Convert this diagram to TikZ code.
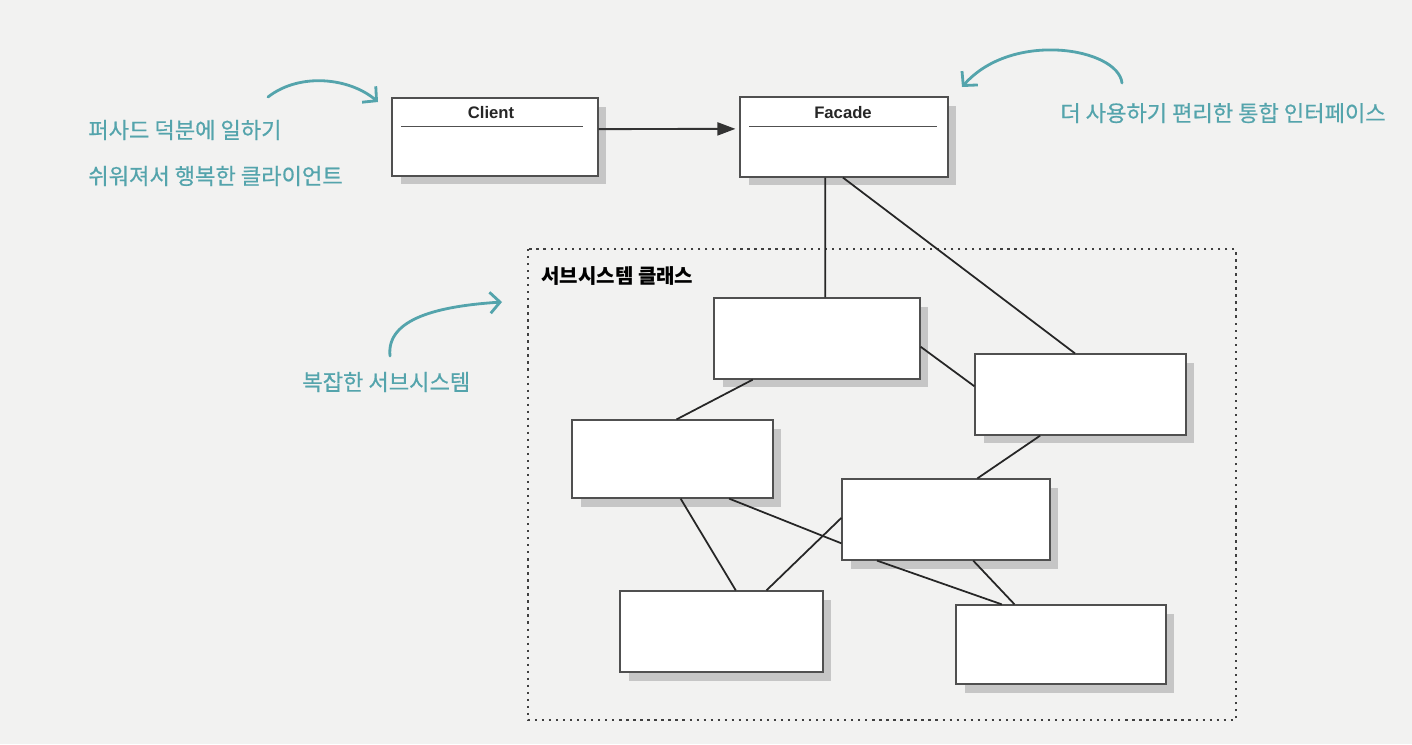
\documentclass[tikz,border=0pt]{standalone}
\usepackage{fontspec}
\setmainfont{Liberation Sans}
\newfontfamily\kofont{Noto Sans CJK KR}
\newfontfamily\konote{Noto Sans CJK KR}[FakeBold=0.6]
\usepackage{tikz}
\usetikzlibrary{arrows.meta,positioning,calc,shadows}
\definecolor{noteteal}{RGB}{84,164,172}
\definecolor{paper}{RGB}{242,242,241}
\definecolor{boxline}{RGB}{80,80,80}

\begin{document}
\begin{tikzpicture}[
    x=0.02cm, y=-0.02cm,
    box/.style={rectangle, draw=boxline, line width=0.7pt, fill=white, inner sep=0pt,
        drop shadow={shadow xshift=0.17cm, shadow yshift=-0.17cm, fill=gray!45, opacity=1}},
    title/.style={font=\bfseries\fontsize{9.5}{11}\selectfont, text=black!85, inner sep=0pt},
    note/.style={font=\konote\fontsize{12.6}{15}\selectfont, text=noteteal, anchor=west, inner sep=0pt},
    arrow/.style={-{Triangle[length=0.36cm, width=0.26cm]}, line width=1.1pt, draw=black!80, fill=black!80},
    link/.style={line width=1pt, black!85},
    note_arrow/.style={-{Straight Barb[length=0.2cm, width=0.42cm]}, line width=1.6pt, noteteal, line cap=round},
    frame/.style={line width=1.6pt, black!75, dash pattern=on 1.3pt off 2.7pt}
]

% Paper
\useasboundingbox (0,0) rectangle (1412,744);
\fill[paper] (0,0) rectangle (1412,744);

% Client and Facade classes
\node[box, minimum width=4.12cm, minimum height=1.56cm] (client) at (495,137) {};
\node[box, minimum width=4.16cm, minimum height=1.60cm] (facade) at (844,137) {};
\node[title] (client_title) at ($(client.north)+(-4,15)$) {Client};
\node[title] (facade_title) at ($(facade.north)+(-1,16)$) {Facade};
\draw[boxline, line width=0.9pt] ($(client.north west)+(10,29)$) -- ($(client.north east)+(-16,29)$);
\draw[boxline, line width=0.9pt] ($(facade.north west)+(10,30)$) -- ($(facade.north east)+(-12,30)$);

% Subsystem frame
\draw[frame] (528,249) rectangle (1236,720);
\node[font=\kofont\bfseries\fontsize{11.4}{13}\selectfont, anchor=west, inner sep=0pt] (frame_label) at (541,276) {서브시스템 클래스};

% Subsystem classes
\node[box, minimum width=4.12cm, minimum height=1.62cm] (sub1) at (817,338.5) {};
\node[box, minimum width=4.22cm, minimum height=1.62cm] (sub2) at (1080.5,394.5) {};
\node[box, minimum width=4.02cm, minimum height=1.56cm] (sub3) at (672.5,459) {};
\node[box, minimum width=4.16cm, minimum height=1.62cm] (sub4) at (946,519.5) {};
\node[box, minimum width=4.06cm, minimum height=1.62cm] (sub5) at (721.5,631.5) {};
\node[box, minimum width=4.20cm, minimum height=1.58cm] (sub6) at (1061,644.5) {};

% Client -> Facade
\draw[arrow] ($(client.north east)!0.4!(client.south east)$) -- ([xshift=-0.08cm]$(facade.north west)!0.4!(facade.south west)$);

% Facade -> subsystem
\draw[link] ($(facade.south west)!0.41!(facade.south east)$) -- ($(sub1.north west)!0.54!(sub1.north east)$);
\draw[link] ($(facade.south west)!0.495!(facade.south east)$) -- ($(sub2.north west)!0.474!(sub2.north east)$);

% Links inside the subsystem
\draw[link] ($(sub1.north east)!0.6!(sub1.south east)$) -- ($(sub2.north west)!0.4!(sub2.south west)$);
\draw[link] ($(sub1.south west)!0.19!(sub1.south east)$) -- ($(sub3.north west)!0.52!(sub3.north east)$);
\draw[link] ($(sub2.south west)!0.31!(sub2.south east)$) -- ($(sub4.north west)!0.65!(sub4.north east)$);
\draw[link] ($(sub3.south west)!0.54!(sub3.south east)$) -- ($(sub5.north west)!0.57!(sub5.north east)$);
\draw[link] ($(sub3.south west)!0.78!(sub3.south east)$) -- ($(sub4.north west)!0.79!(sub4.south west)$);
\draw[link] ($(sub5.north west)!0.72!(sub5.north east)$) -- ($(sub4.north west)!0.48!(sub4.south west)$);
\draw[link] ($(sub4.south west)!0.17!(sub4.south east)$) -- ($(sub6.north west)!0.22!(sub6.north east)$);
\draw[link] ($(sub4.south west)!0.63!(sub4.south east)$) -- ($(sub6.north west)!0.28!(sub6.north east)$);

% Notes
\node[note] (client_note1) at (88,130) {퍼사드 덕분에 일하기};
\node[note] (client_note2) at (88,176) {쉬워져서 행복한 클라이언트};
\node[note] (facade_note) at (1060,113) {더 사용하기 편리한 통합 인터페이스};
\node[note] (sub_note) at (302,382) {복잡한 서브시스템};

% Note arrows
\coordinate (client_tail) at (268,97);
\coordinate (client_head) at (378,102);
\coordinate (facade_tail) at (1122,83);
\coordinate (facade_head) at (962,87);
\coordinate (sub_tail) at (390,356);
\coordinate (sub_head) at (502,302);
\draw[note_arrow] (client_tail) .. controls (300,72) and (350,78) .. (client_head);
\draw[note_arrow] (facade_tail) .. controls (1118,48) and (1012,30) .. (facade_head);
\draw[note_arrow] (sub_tail) .. controls (386,318) and (440,306) .. (sub_head);

\end{tikzpicture}
\end{document}
